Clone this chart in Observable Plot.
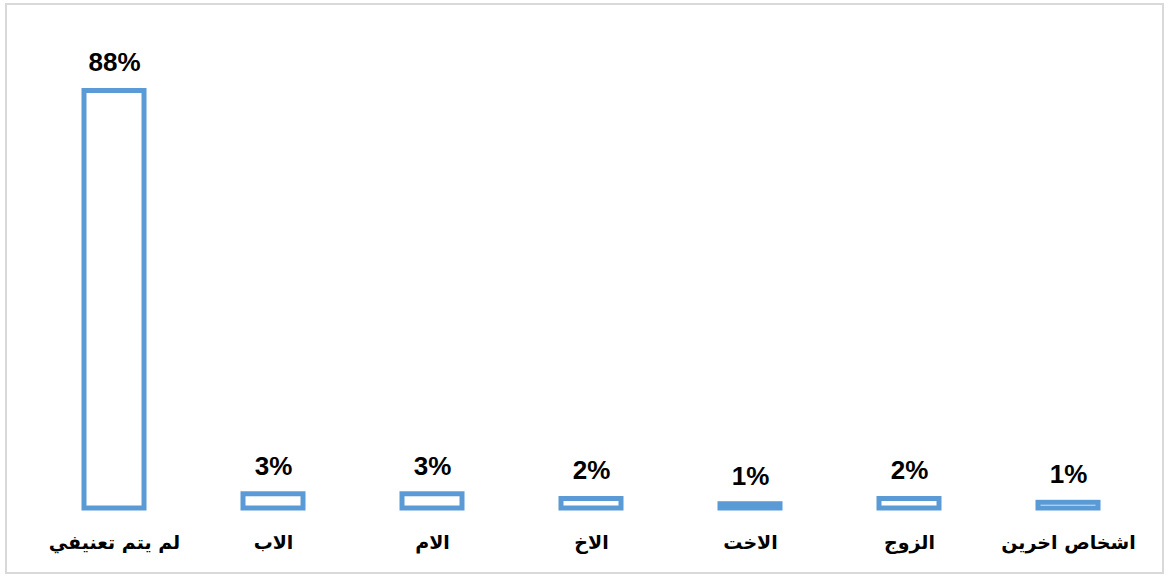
<!DOCTYPE html>
<html>
<head>
<meta charset="utf-8">
<script src="https://cdn.jsdelivr.net/npm/d3@7"></script>
<script src="https://cdn.jsdelivr.net/npm/@observablehq/plot@0.6"></script>
<style>
  html, body { margin: 0; padding: 0; background: #fff; }
  #wrap { position: relative; width: 1168px; height: 578px; overflow: hidden; }
  #frame { position: absolute; left: 5px; top: 3px; width: 1159px; height: 571px; border: 2px solid #d9d9d9; box-sizing: border-box; }
  #chart { position: absolute; left: 0; top: 0; }
</style>
</head>
<body>
<div id="wrap"><div id="frame"></div><div id="chart"></div></div>
<script>
const categories = ["لم يتم تعنيفي", "الاب", "الام", "الاخ", "الاخت", "الزوج", "اشخاص اخرين"];
const values = [88, 3, 3, 2, 0.9, 2, 1.2];
const valueLabels = ["88%", "3%", "3%", "2%", "1%", "2%", "1%"];

const data = categories.map((c, i) => ({cat: c, value: values[i], label: valueLabels[i]}));

const chart = Plot.plot({
  width: 1168,
  height: 578,
  marginTop: 90.5,
  marginBottom: 70,
  marginLeft: 35,
  marginRight: 20,
  x: {domain: categories, paddingInner: 0.62, paddingOuter: 0.31, axis: null},
  y: {domain: [0, 88], axis: null},
  style: {background: "transparent"},
  marks: [
    Plot.barY(data, {x: "cat", y: "value", fill: "white", stroke: "#5B9BD5", strokeWidth: 5}),
    Plot.text(data, {x: "cat", y: "value", text: "label", dy: -28, fontSize: 26, fontWeight: "bold", fill: "black", fontFamily: "Liberation Sans, Arial, sans-serif"}),
    Plot.axisX({tickSize: 0, tickPadding: 27, label: null, fontSize: 19, fontWeight: "bold", fontFamily: "DejaVu Sans, sans-serif", color: "black"})
  ]
});
document.getElementById("chart").appendChild(chart);
</script>
</body>
</html>
